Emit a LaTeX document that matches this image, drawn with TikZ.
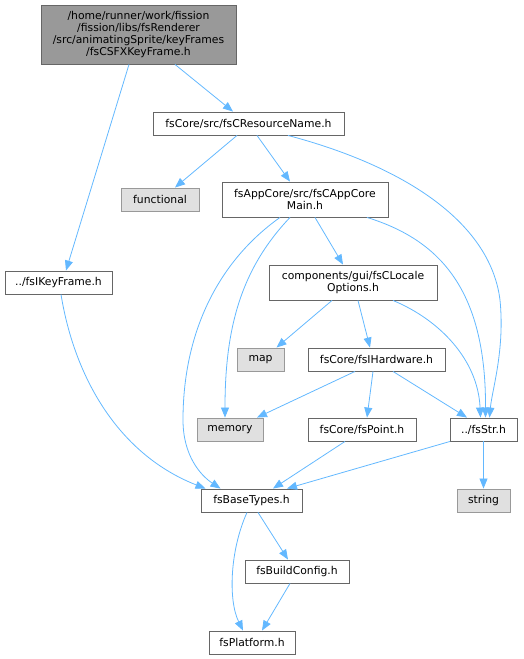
\documentclass[tikz,border=0pt]{standalone}
\usepackage{fontspec}
\setmainfont{DejaVu Sans}
\usetikzlibrary{arrows.meta}
\definecolor{edgec}{HTML}{63B8FF}
\definecolor{bordc}{HTML}{666666}
\definecolor{topfill}{HTML}{999999}
\definecolor{sysfill}{HTML}{E0E0E0}
\definecolor{sysbord}{HTML}{999999}
\tikzset{
  filebox/.style={draw=bordc, line width=0.9pt, fill=white, inner sep=0pt, align=center,
    font=\fontsize{10.8}{12.2}\selectfont, text=black},
  sysbox/.style={filebox, draw=sysbord, fill=sysfill},
  topbox/.style={filebox, fill=topfill},
  dep/.style={draw=edgec, line width=0.8pt, -{Triangle[length=10pt,width=8pt]}, edgec},
}
\begin{document}
\begin{tikzpicture}[x=1pt,y=-1pt]
\useasboundingbox (0,0) rectangle (523,659);
\node[topbox, minimum width=195pt, minimum height=59pt] (top) at (138.5,34.5) {/home/runner/work/fission\\/fission/libs/fsRenderer\\/src/animatingSprite/keyFrames\\/fsCSFXKeyFrame.h};
\node[filebox, minimum width=191pt, minimum height=23pt] (res) at (248.5,123.5) {fsCore/src/fsCResourceName.h};
\node[sysbox, minimum width=78pt, minimum height=23pt] (func) at (160,199.5) {functional};
\node[filebox, minimum width=166pt, minimum height=35pt] (app) at (305,199.5) {fsAppCore/src/fsCAppCore\\Main.h};
\node[filebox, minimum width=107pt, minimum height=23pt] (ikf) at (58.5,282.5) {../fsIKeyFrame.h};
\node[filebox, minimum width=168pt, minimum height=35pt] (loc) at (353,282.5) {components/gui/fsCLocale\\Options.h};
\node[sysbox, minimum width=47pt, minimum height=23pt] (map) at (260.5,359.5) {map};
\node[filebox, minimum width=137pt, minimum height=23pt] (hw) at (376.5,359.5) {fsCore/fsIHardware.h};
\node[sysbox, minimum width=66pt, minimum height=23pt] (mem) at (230,429.5) {memory};
\node[filebox, minimum width=108pt, minimum height=23pt] (pt) at (362,429.5) {fsCore/fsPoint.h};
\node[filebox, minimum width=67pt, minimum height=23pt] (str) at (483.5,429.5) {../fsStr.h};
\node[filebox, minimum width=101pt, minimum height=23pt] (base) at (251.5,500.5) {fsBaseTypes.h};
\node[sysbox, minimum width=53pt, minimum height=23pt] (string) at (483.5,500.5) {string};
\node[filebox, minimum width=104pt, minimum height=23pt] (bc) at (297,571.5) {fsBuildConfig.h};
\node[filebox, minimum width=86pt, minimum height=23pt] (plat) at (252,642.5) {fsPlatform.h};

% edges
\draw[dep] ([xshift=36.5pt]top.south) -- ([xshift=-15.5pt]res.north);
\draw[dep] ([xshift=-9.5pt]top.south) -- ([xshift=7.5pt]ikf.north);
\draw[dep] ([xshift=-11.5pt]res.south) -- ([xshift=15pt]func.north);
\draw[dep] ([xshift=8.5pt]res.south) -- ([xshift=-15pt]app.north);
\draw[dep] ([xshift=39.5pt]res.south) .. controls (400,165) and (490,220) .. (500,300) .. controls (505,350) and (492,390) .. ([xshift=6pt]str.north);
\draw[dep] ([xshift=-25pt]app.south) .. controls (220,260) and (183,330) .. (183,420) .. controls (183,455) and (200,475) .. ([xshift=-31pt]base.north);
\draw[dep] ([xshift=-15pt]app.south) .. controls (240,270) and (225,330) .. ([xshift=-5pt]mem.north);
\draw[dep] ([xshift=10pt]app.south) -- ([xshift=-10pt]loc.north);
\draw[dep] ([xshift=62pt]app.south) .. controls (440,240) and (486,290) .. ([xshift=2pt]str.north);
\draw[dep] ([xshift=2.5pt]ikf.south) .. controls (75,380) and (120,455) .. ([xshift=-46pt]base.north);
\draw[dep] ([xshift=-21pt]loc.south) -- ([xshift=16pt]map.north);
\draw[dep] ([xshift=5pt]loc.south) -- ([xshift=-6.5pt]hw.north);
\draw[dep] ([xshift=40pt]loc.south) .. controls (440,320) and (478,360) .. ([xshift=-3pt]str.north);
\draw[dep] ([xshift=-21.5pt]hw.south) -- ([xshift=27pt]mem.north);
\draw[dep] ([xshift=-3.5pt]hw.south) -- ([xshift=5pt]pt.north);
\draw[dep] ([xshift=16.5pt]hw.south) -- ([xshift=-16.5pt]str.north);
\draw[dep] ([xshift=-17pt]pt.south) -- ([xshift=21.5pt]base.north);
\draw[dep] ([xshift=-33.5pt]str.south) -- ([xshift=35.5pt]base.north);
\draw[dep] (str.south) -- (string.north);
\draw[dep] ([xshift=6.5pt]base.south) -- ([xshift=-9pt]bc.north);
\draw[dep] ([xshift=-4.5pt]base.south) .. controls (230,550) and (228,600) .. ([xshift=-9pt]plat.north);
\draw[dep] ([xshift=-7pt]bc.south) -- ([xshift=10pt]plat.north);
\end{tikzpicture}
\end{document}
